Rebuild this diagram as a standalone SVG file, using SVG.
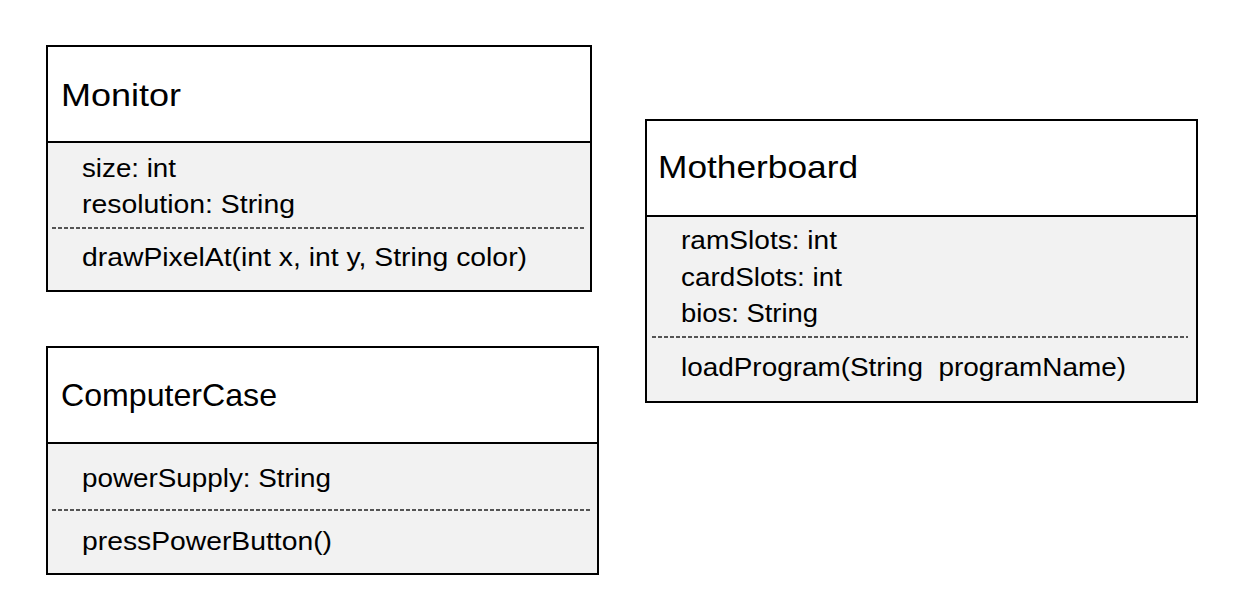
<svg xmlns="http://www.w3.org/2000/svg" width="1242" height="604" viewBox="0 0 1242 604">
<style>
.box{fill:#f2f2f2;stroke:#000;stroke-width:2}
.head{fill:#fff;stroke:#000;stroke-width:2}
.dash{stroke:#222;stroke-width:1.5;stroke-dasharray:4,2;fill:none}
.title{font-family:"Liberation Sans",Arial,sans-serif;font-size:32px;fill:#000}
.attr{font-family:"Liberation Sans",Arial,sans-serif;font-size:25px;fill:#000;white-space:pre}
</style>
<rect width="1242" height="604" fill="#fff"/>
<g id="Monitor">
<rect class="box" x="47" y="46" width="544" height="245"/>
<rect class="head" x="47" y="46" width="544" height="96"/>
<text class="title" x="61" y="106" textLength="120" lengthAdjust="spacingAndGlyphs">Monitor</text>
<text class="attr" x="82" y="177" textLength="94" lengthAdjust="spacingAndGlyphs">size: int</text>
<text class="attr" x="82" y="213" textLength="213" lengthAdjust="spacingAndGlyphs">resolution: String</text>
<line class="dash" x1="52" y1="228" x2="584" y2="228"/>
<text class="attr" x="82" y="266" textLength="445" lengthAdjust="spacingAndGlyphs">drawPixelAt(int x, int y, String color)</text>
</g>
<g id="ComputerCase">
<rect class="box" x="47" y="347" width="551" height="227"/>
<rect class="head" x="47" y="347" width="551" height="96"/>
<text class="title" x="61" y="406" textLength="216" lengthAdjust="spacingAndGlyphs">ComputerCase</text>
<text class="attr" x="82" y="487" textLength="249" lengthAdjust="spacingAndGlyphs">powerSupply: String</text>
<line class="dash" x1="52" y1="510" x2="590" y2="510"/>
<text class="attr" x="82" y="550" textLength="250" lengthAdjust="spacingAndGlyphs">pressPowerButton()</text>
</g>
<g id="Motherboard">
<rect class="box" x="646" y="120" width="551" height="282"/>
<rect class="head" x="646" y="120" width="551" height="96"/>
<text class="title" x="658" y="178" textLength="200" lengthAdjust="spacingAndGlyphs">Motherboard</text>
<text class="attr" x="681" y="249" textLength="156" lengthAdjust="spacingAndGlyphs">ramSlots: int</text>
<text class="attr" x="681" y="286" textLength="161" lengthAdjust="spacingAndGlyphs">cardSlots: int</text>
<text class="attr" x="681" y="322" textLength="137" lengthAdjust="spacingAndGlyphs">bios: String</text>
<line class="dash" x1="652" y1="337" x2="1188" y2="337"/>
<text class="attr" x="681" y="376" textLength="445" lengthAdjust="spacingAndGlyphs">loadProgram(String  programName)</text>
</g>
<g id="connectors"></g>
</svg>
